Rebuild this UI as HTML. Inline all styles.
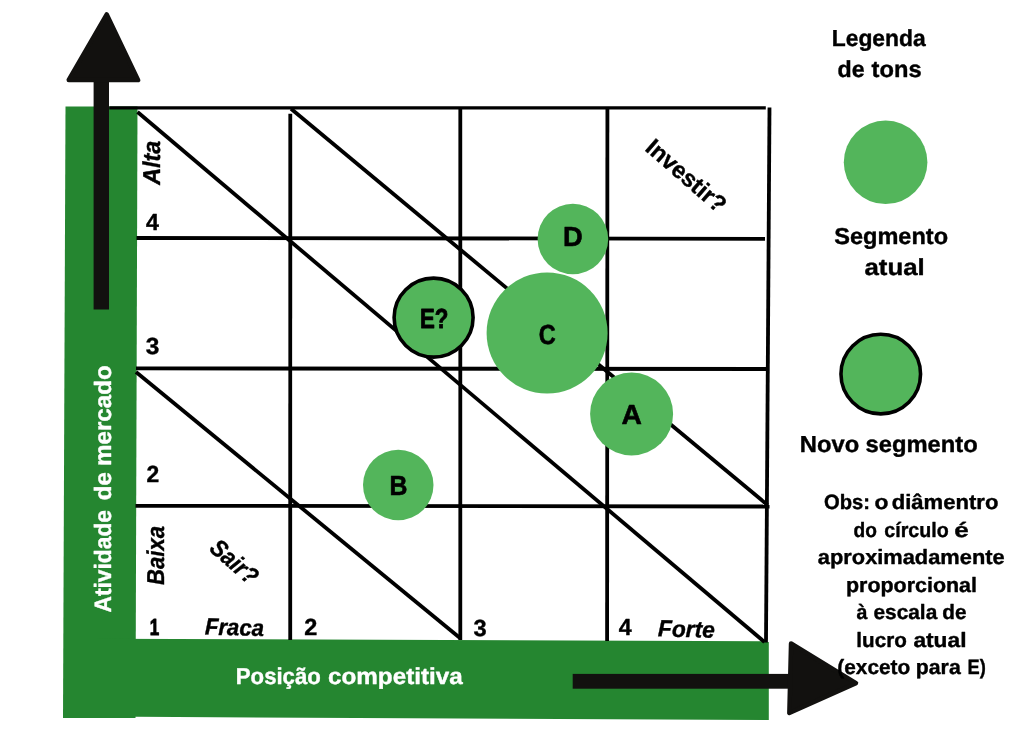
<!DOCTYPE html>
<html lang="pt">
<head>
<meta charset="utf-8">
<title>Matriz de posição competitiva</title>
<style>
html,body{margin:0;padding:0;background:#fff;}
body{width:1024px;height:744px;overflow:hidden;}
svg{display:block;will-change:transform;}
text{font-family:"Liberation Sans",sans-serif;font-weight:700;fill:#000;stroke:#000;stroke-linejoin:round;text-rendering:geometricPrecision;}
.it{font-style:italic;}
.w{fill:#fff;stroke:#fff;}
.ln{stroke:#000;stroke-width:3.8;fill:none;stroke-linecap:butt;}
.c{fill:#53b55b;}
.cs{fill:#53b55b;stroke:#000;stroke-width:3.6;}
.k{fill:#12110f;stroke:#12110f;stroke-linejoin:round;}
.g{fill:#258630;}
</style>
</head>
<body>
<svg width="1024" height="744" viewBox="0 0 1024 744">
<rect width="1024" height="744" fill="#fff"/>
<!-- green axis bars -->
<polygon class="g" points="65.5,106.5 137.5,106.5 135.5,718 63,718"/>
<polygon class="g" points="97,638.8 768.8,641.2 768.8,720 97,716.6"/>
<!-- grid -->
<g class="ln">
<line x1="109.3" y1="107.9" x2="765.8" y2="107.9" stroke-width="3.4"/>
<line x1="136.5" y1="238" x2="765" y2="238.8"/>
<line x1="136" y1="368.4" x2="767" y2="369"/>
<line x1="135.5" y1="505.8" x2="769.5" y2="506.5"/>
<line x1="290.3" y1="113.8" x2="290.2" y2="640"/>
<line x1="460.3" y1="108" x2="460.3" y2="640"/>
<line x1="607.4" y1="108" x2="607.1" y2="641"/>
<line x1="769.5" y1="107.5" x2="766" y2="642.5"/>
<line x1="137.5" y1="112" x2="764.5" y2="642"/>
<line x1="291" y1="108.8" x2="767.5" y2="505"/>
<line x1="136" y1="372" x2="460" y2="638"/>
</g>
<!-- circles -->
<circle class="c" cx="547.1" cy="333" r="60.5"/>
<circle class="c" cx="572.9" cy="239" r="35.3"/>
<circle class="c" cx="631.6" cy="414" r="41.5"/>
<circle class="c" cx="398.25" cy="485" r="35.25"/>
<circle class="cs" cx="433.6" cy="317.6" r="39.5"/>
<!-- legend circles -->
<circle class="c" cx="885.6" cy="162.3" r="41.8"/>
<circle class="cs" cx="880.75" cy="374.1" r="39.8"/>
<!-- arrows -->
<g class="k">
<rect x="93.6" y="80" width="15.4" height="229.5" stroke="none"/>
<path d="M106.74,14.45 L138.15,80.1 L68.75,79.9 Z" stroke-width="4.5"/>
<rect x="572.7" y="673.9" width="218" height="14.8" stroke="none"/>
<path d="M791.05,643.5 L856,683.2 L789.35,713 Z" stroke-width="4.5"/>
</g>
<text stroke-width="0.4" font-size="23.1" transform="translate(831.7,45.8) scale(0.9898,1)">Legenda</text>
<text stroke-width="0.4" font-size="23.1" transform="translate(837.47,77.4) scale(1.0048,1)">de</text>
<text stroke-width="0.4" font-size="23.1" transform="translate(871.56,77.4) scale(1.0255,1)">tons</text>
<text stroke-width="0.4" font-size="23.1" transform="translate(834.24,244.4) scale(1.0195,1)">Segmento</text>
<text stroke-width="0.4" font-size="23.1" transform="translate(864.43,275.1) scale(1.1182,1)">atual</text>
<text stroke-width="0.4" font-size="23.1" transform="translate(799.84,451.6) scale(1.0270,1)">Novo</text>
<text stroke-width="0.4" font-size="23.1" transform="translate(865.45,451.6) scale(1.0291,1)">segmento</text>
<text stroke-width="0.4" font-size="20.7" transform="translate(824.09,509.4) scale(0.9752,1)">Obs:</text>
<text stroke-width="0.4" font-size="20.7" transform="translate(874.49,509.4) scale(1.1029,1)">o</text>
<text stroke-width="0.4" font-size="20.7" transform="translate(891.72,509.4) scale(1.0669,1)">diâmentro</text>
<text stroke-width="0.4" font-size="20.7" transform="translate(853.54,536.9) scale(0.9238,1)">do</text>
<text stroke-width="0.4" font-size="20.7" transform="translate(884.31,536.9) scale(0.9496,1)">círculo</text>
<text stroke-width="0.4" font-size="20.7" transform="translate(954.26,536.9) scale(1.2581,1)">é</text>
<text stroke-width="0.4" font-size="20.7" transform="translate(817.84,564.4) scale(1.0549,1)">aproximadamente</text>
<text stroke-width="0.4" font-size="20.7" transform="translate(846,592) scale(1.0358,1)">proporcional</text>
<text stroke-width="0.4" font-size="20.7" transform="translate(856.51,619.4) scale(0.9480,1)">à</text>
<text stroke-width="0.4" font-size="20.7" transform="translate(873.47,619.4) scale(1.0078,1)">escala</text>
<text stroke-width="0.4" font-size="20.7" transform="translate(942.27,619.4) scale(1.0016,1)">de</text>
<text stroke-width="0.4" font-size="20.7" transform="translate(856.36,646.7) scale(0.9972,1)">lucro</text>
<text stroke-width="0.4" font-size="20.7" transform="translate(913.42,646.7) scale(1.0983,1)">atual</text>
<text stroke-width="0.4" font-size="20.7" transform="translate(837.36,674.3) scale(1.0059,1)">(exceto</text>
<text stroke-width="0.4" font-size="20.7" transform="translate(915.81,674.3) scale(1.0275,1)">para</text>
<text stroke-width="0.4" font-size="20.7" transform="translate(967.62,674.3) scale(0.8838,1)">E)</text>
<text class="w" stroke-width="0.4" font-size="23" transform="translate(235.85,683.9) scale(0.9628,1)">Posição</text>
<text class="w" stroke-width="0.4" font-size="23" transform="translate(328.03,683.9) scale(1.0539,1)">competitiva</text>
<text stroke-width="0.4" font-size="23.2" transform="translate(145.94,230.2) scale(1.0003,1)">4</text>
<text stroke-width="0.4" font-size="23.2" transform="translate(145.77,353.8) scale(1.0556,1)">3</text>
<text stroke-width="0.4" font-size="23.2" transform="translate(146.41,482.4) scale(0.9852,1)">2</text>
<text stroke-width="1" font-size="23.2" transform="translate(149.68,634.5) scale(0.7337,1)">1</text>
<text stroke-width="0.4" font-size="23.2" transform="translate(304.3,635.4) scale(1.0116,1)">2</text>
<text stroke-width="0.4" font-size="23.2" transform="translate(473.49,635.7) scale(1.0204,1)">3</text>
<text stroke-width="0.4" font-size="23.2" transform="translate(618.64,634.9) scale(1.0003,1)">4</text>
<text class="it" stroke-width="0.4" font-size="23.3" transform="translate(204.66,634.6) rotate(1.3) scale(0.9517,1)">Fraca</text>
<text class="it" stroke-width="0.4" font-size="23.3" transform="translate(657.85,636.3) rotate(1.4) scale(0.9757,1)">Forte</text>
<text stroke-width="0.9" font-size="27.6" transform="translate(419.89,328) scale(0.8066,1)">E?</text>
<text stroke-width="0.6" font-size="27.6" transform="translate(538.76,344.4) scale(0.8528,1)">C</text>
<text stroke-width="0.6" font-size="27.6" transform="translate(562.89,245.5) scale(0.9890,1)">D</text>
<text stroke-width="0.6" font-size="27.6" transform="translate(621.45,424.2) scale(1.0238,1)">A</text>
<text stroke-width="0.6" font-size="27.6" transform="translate(389.56,495) scale(0.8999,1)">B</text>
<text class="w" stroke-width="0.4" font-size="23.6" transform="translate(111.3,612.58) rotate(-90) scale(0.9658,1)">Atividade</text>
<text class="w" stroke-width="0.4" font-size="23.6" transform="translate(111.3,500.27) rotate(-90) scale(1.0224,1)">de</text>
<text class="w" stroke-width="0.4" font-size="23.6" transform="translate(111.3,465.99) rotate(-90) scale(1.0249,1)">mercado</text>
<text class="it" stroke-width="0.4" font-size="24.4" transform="translate(160.1,184.83) rotate(-90) scale(0.9592,1)">Alta</text>
<text class="it" stroke-width="0.4" font-size="24.4" transform="translate(163.5,584.94) rotate(-90) scale(0.9041,1)">Baixa</text>
<text class="it" stroke-width="0.4" font-size="24.4" transform="translate(208.29,549.99) rotate(41) scale(0.8977,1)">Sair?</text>
<text stroke-width="0.4" font-size="23.8" transform="translate(644.01,149.65) rotate(41) scale(0.9870,1)">Investir?</text>
</svg>
</body>
</html>
